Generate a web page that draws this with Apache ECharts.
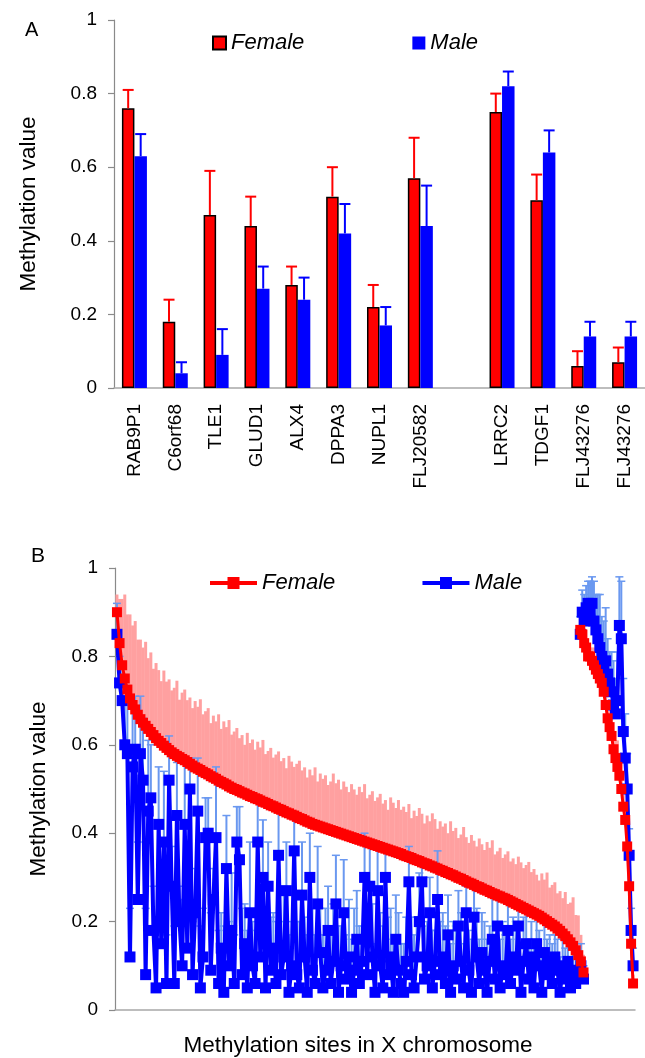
<!DOCTYPE html>
<html>
<head>
<meta charset="utf-8">
<script src="https://cdn.jsdelivr.net/npm/echarts@6/dist/echarts.min.js"></script>
<style>
html, body { margin: 0; padding: 0; background: #fff; }
#chart { width: 645px; height: 1058px; }
</style>
</head>
<body>
<div id="chart"></div>
<script>
// ---- panel A: selected genes ----
var genes = ['RAB9P1', 'C6orf68', 'TLE1', 'GLUD1', 'ALX4', 'DPPA3', 'NUPL1', 'FLJ20582', '', 'LRRC2', 'TDGF1', 'FLJ43276', 'FLJ43276'];
var femaleA = [0.76, 0.18, 0.47, 0.44, 0.28, 0.52, 0.22, 0.57, null, 0.75, 0.51, 0.06, 0.07];
var femaleAErr = [0.05, 0.06, 0.12, 0.08, 0.05, 0.08, 0.06, 0.11, null, 0.05, 0.07, 0.04, 0.04];
var maleA = [0.63, 0.04, 0.09, 0.27, 0.24, 0.42, 0.17, 0.44, null, 0.82, 0.64, 0.14, 0.14];
var maleAErr = [0.06, 0.03, 0.07, 0.06, 0.06, 0.08, 0.05, 0.11, null, 0.04, 0.06, 0.04, 0.04];
var yTicks = [0, 0.2, 0.4, 0.6, 0.8, 1];

// ---- panel B: X-chromosome sites, sorted by female value ----
var femaleB = [
0.90,0.83,0.78,0.75,0.725,0.705,0.69,0.68,0.668,0.658,
0.65,0.643,0.636,0.629,0.622,0.615,0.609,0.604,0.598,0.593,
0.588,0.583,0.579,0.575,0.572,0.568,0.565,0.561,0.557,0.553,
0.549,0.546,0.543,0.539,0.536,0.533,0.529,0.526,0.523,0.519,
0.516,0.513,0.51,0.506,0.503,0.50,0.498,0.495,0.492,0.49,
0.487,0.484,0.482,0.479,0.477,0.474,0.471,0.469,0.466,0.463,
0.461,0.458,0.455,0.453,0.45,0.447,0.445,0.442,0.44,0.437,
0.434,0.432,0.429,0.426,0.424,0.421,0.419,0.417,0.415,0.413,
0.411,0.409,0.407,0.405,0.403,0.401,0.399,0.397,0.395,0.393,
0.391,0.389,0.387,0.385,0.383,0.381,0.379,0.377,0.375,0.373,
0.371,0.369,0.367,0.365,0.363,0.361,0.359,0.357,0.355,0.353,
0.35,0.348,0.346,0.344,0.341,0.339,0.337,0.334,0.332,0.33,
0.327,0.325,0.322,0.32,0.317,0.315,0.312,0.31,0.307,0.305,
0.302,0.299,0.297,0.294,0.291,0.288,0.286,0.283,0.28,0.278,
0.275,0.272,0.27,0.267,0.264,0.262,0.259,0.257,0.254,0.252,
0.249,0.246,0.243,0.24,0.237,0.234,0.231,0.228,0.225,0.222,
0.219,0.216,0.213,0.209,0.205,0.201,0.197,0.193,0.189,0.184,
0.179,0.173,0.167,0.16,0.153,0.145,0.135,0.124,0.11,0.085];
var femaleBErr = [
0.04,0.10,0.15,0.19,0.17,0.19,0.18,0.20,0.17,0.18,
0.17,0.19,0.16,0.18,0.15,0.17,0.16,0.14,0.17,0.15,
0.16,0.14,0.15,0.17,0.13,0.15,0.16,0.14,0.15,0.13,
0.15,0.14,0.16,0.13,0.14,0.15,0.12,0.14,0.13,0.15,
0.12,0.14,0.13,0.15,0.12,0.13,0.14,0.12,0.13,0.11,
0.14,0.12,0.13,0.11,0.13,0.12,0.14,0.11,0.12,0.13,
0.11,0.12,0.13,0.11,0.12,0.10,0.13,0.12,0.11,0.12,
0.13,0.11,0.12,0.10,0.12,0.11,0.13,0.10,0.12,0.11,
0.12,0.10,0.11,0.13,0.11,0.12,0.10,0.12,0.11,0.10,
0.12,0.11,0.10,0.12,0.11,0.13,0.10,0.11,0.12,0.10,
0.11,0.12,0.10,0.11,0.09,0.12,0.11,0.10,0.12,0.10,
0.11,0.10,0.12,0.09,0.11,0.10,0.12,0.11,0.09,0.11,
0.10,0.12,0.11,0.09,0.11,0.10,0.11,0.09,0.12,0.10,
0.11,0.09,0.10,0.12,0.10,0.09,0.11,0.10,0.09,0.11,
0.10,0.09,0.11,0.10,0.12,0.09,0.10,0.11,0.09,0.10,
0.11,0.09,0.10,0.09,0.11,0.10,0.09,0.10,0.11,0.09,
0.10,0.09,0.08,0.10,0.09,0.11,0.08,0.09,0.10,0.08,
0.09,0.08,0.10,0.08,0.09,0.11,0.08,0.09,0.06,0.04];
var maleB = [
0.85,0.74,0.70,0.60,0.58,0.12,0.55,0.59,0.25,0.58,
0.52,0.08,0.45,0.48,0.18,0.05,0.42,0.15,0.38,0.06,
0.52,0.28,0.06,0.44,0.20,0.10,0.42,0.14,0.50,0.08,
0.22,0.45,0.05,0.12,0.39,0.40,0.09,0.25,0.39,0.06,
0.14,0.04,0.32,0.10,0.18,0.06,0.38,0.34,0.08,0.15,
0.05,0.22,0.10,0.06,0.38,0.12,0.30,0.05,0.28,0.09,
0.14,0.06,0.35,0.08,0.12,0.27,0.04,0.10,0.36,0.08,
0.05,0.26,0.12,0.04,0.30,0.09,0.06,0.24,0.13,0.05,
0.09,0.18,0.06,0.11,0.24,0.04,0.10,0.22,0.07,0.12,
0.04,0.09,0.16,0.06,0.11,0.30,0.08,0.28,0.12,0.04,
0.27,0.10,0.05,0.30,0.08,0.12,0.04,0.16,0.09,0.06,
0.04,0.11,0.29,0.08,0.05,0.12,0.20,0.29,0.07,0.10,
0.22,0.05,0.11,0.25,0.08,0.12,0.06,0.17,0.04,0.10,
0.07,0.19,0.11,0.05,0.22,0.09,0.04,0.21,0.12,0.06,
0.13,0.09,0.04,0.11,0.16,0.07,0.19,0.05,0.10,0.08,
0.18,0.06,0.12,0.09,0.19,0.04,0.11,0.15,0.07,0.12,
0.05,0.15,0.10,0.04,0.13,0.08,0.11,0.06,0.12,0.09,
0.04,0.10,0.07,0.11,0.05,0.09,0.06,0.08,0.10,0.07];
var maleBErr = [
0.07,0.06,0.08,0.10,0.12,0.11,0.14,0.12,0.13,0.13,
0.14,0.15,0.16,0.12,0.10,0.14,0.13,0.12,0.16,0.11,
0.10,0.09,0.13,0.12,0.08,0.15,0.14,0.11,0.07,0.12,
0.10,0.12,0.14,0.11,0.09,0.08,0.13,0.07,0.16,0.12,
0.08,0.15,0.12,0.10,0.13,0.11,0.08,0.12,0.15,0.09,
0.13,0.16,0.10,0.12,0.09,0.14,0.13,0.11,0.10,0.12,
0.08,0.14,0.10,0.12,0.16,0.11,0.13,0.10,0.08,0.12,
0.15,0.12,0.09,0.13,0.10,0.14,0.11,0.13,0.10,0.12,
0.14,0.10,0.12,0.13,0.11,0.15,0.09,0.12,0.10,0.13,
0.12,0.14,0.11,0.13,0.08,0.10,0.15,0.09,0.12,0.11,
0.10,0.12,0.14,0.07,0.13,0.11,0.12,0.10,0.13,0.09,
0.11,0.10,0.08,0.13,0.12,0.09,0.11,0.05,0.12,0.10,
0.08,0.13,0.07,0.11,0.12,0.10,0.13,0.09,0.11,0.10,
0.12,0.08,0.11,0.10,0.06,0.09,0.12,0.07,0.11,0.10,
0.09,0.11,0.12,0.08,0.10,0.09,0.06,0.11,0.10,0.09,
0.06,0.10,0.09,0.11,0.05,0.08,0.10,0.07,0.09,0.08,
0.10,0.06,0.08,0.09,0.07,0.08,0.06,0.09,0.05,0.07,
0.08,0.06,0.07,0.05,0.07,0.05,0.06,0.04,0.05,0.03];

// small group of sites plotted at the right end
var femaleR = [0.86,0.85,0.83,0.82,0.80,0.80,0.79,0.78,0.77,0.76,0.75,0.74,0.72,0.69,0.66,0.64,0.62,0.59,0.57,0.55,0.53,0.50,0.46,0.43,0.37,0.28,0.15,0.06];
var femaleRErr = [0.03,0.02,0.03,0.04,0.03,0.02,0.03,0.04,0.03,0.03,0.04,0.03,0.05,0.04,0.03,0.04,0.05,0.03,0.04,0.06,0.04,0.03,0.04,0.03,0.03,0.02,0.03,0.02];
var maleR = [0.85,0.90,0.88,0.91,0.92,0.90,0.92,0.88,0.86,0.84,0.82,0.80,0.78,0.79,0.76,0.74,0.72,0.69,0.67,0.70,0.87,0.84,0.63,0.57,0.50,0.35,0.18,0.10];
var maleRErr = [0.04,0.05,0.06,0.05,0.05,0.07,0.06,0.09,0.08,0.10,0.12,0.09,0.10,0.12,0.08,0.07,0.09,0.10,0.08,0.11,0.11,0.13,0.12,0.10,0.08,0.06,0.05,0.04];

var RED = '#FF0000', BLUE = '#0000FF', PINK = '#FFA0A0', LIGHTBLUE = '#6A98F0';
var FONT = '"Liberation Sans", Arial, sans-serif';

function errRows(vals, errs) {
    var rows = [];
    vals.forEach(function (v, i) {
        if (v != null) rows.push([i, v, errs[i]]);
    });
    return rows;
}

// site position on the hidden x scale
function siteRows(vals, errs, start, step) {
    return vals.map(function (v, i) {
        return [start + i * step, v, errs[i]];
    });
}

var femaleMain = siteRows(femaleB, femaleBErr, 0.5, 2 / 3);
var maleMain = siteRows(maleB, maleBErr, 0.5, 2 / 3);
var femaleRight = siteRows(femaleR, femaleRErr, 119, 0.5);
var maleRight = siteRows(maleR, maleRErr, 119, 0.5);

function barErr(offset, color) {
    return function (params, api) {
        var lo = api.coord([api.value(0), api.value(1)]);
        var hi = api.coord([api.value(0), api.value(1) + api.value(2)]);
        var x = lo[0] + offset;
        return {
            type: 'group',
            children: [
                {type: 'line', shape: {x1: x, y1: lo[1], x2: x, y2: hi[1]}, style: {stroke: color, lineWidth: 2}},
                {type: 'line', shape: {x1: x - 5.5, y1: hi[1], x2: x + 5.5, y2: hi[1]}, style: {stroke: color, lineWidth: 2}}
            ]
        };
    };
}

function pinkErr(params, api) {
    var lo = api.coord([api.value(0), api.value(1)]);
    var hi = api.coord([api.value(0), api.value(1) + api.value(2)]);
    return {
        type: 'rect',
        shape: {x: lo[0] - 1.5, y: hi[1], width: 3, height: lo[1] - hi[1]},
        style: {fill: PINK}
    };
}

function blueErr(params, api) {
    var lo = api.coord([api.value(0), api.value(1)]);
    var hi = api.coord([api.value(0), api.value(1) + api.value(2)]);
    return {
        type: 'group',
        children: [
            {type: 'line', shape: {x1: lo[0], y1: lo[1], x2: lo[0], y2: hi[1]}, style: {stroke: LIGHTBLUE, lineWidth: 2}},
            {type: 'line', shape: {x1: lo[0] - 4, y1: hi[1], x2: lo[0] + 4, y2: hi[1]}, style: {stroke: LIGHTBLUE, lineWidth: 1.5}}
        ]
    };
}

var axisGray = '#8a8a8a';
function yAxisOpt(gridIndex, nameGap) {
    return {
        gridIndex: gridIndex,
        type: 'value',
        min: yTicks[0],
        max: yTicks[yTicks.length - 1],
        interval: 0.2,
        name: 'Methylation value',
        nameLocation: 'middle',
        nameGap: nameGap,
        nameTextStyle: {fontSize: 22.5, color: '#000', fontFamily: FONT},
        axisLine: {show: true, lineStyle: {color: axisGray, width: 1.2}},
        axisTick: {show: true, length: 6, lineStyle: {color: axisGray, width: 1.2}},
        axisLabel: {fontSize: 19, color: '#000', margin: 17, fontFamily: FONT},
        splitLine: {show: false}
    };
}

function lineSeries(name, rows, color, size, width, z) {
    return {
        name: name, type: 'line', xAxisIndex: 1, yAxisIndex: 1,
        data: rows.map(function (r) { return [r[0], r[1]]; }),
        symbol: 'rect', symbolSize: size,
        itemStyle: {color: color}, lineStyle: {color: color, width: width}, z: z
    };
}

var dom = document.getElementById('chart');
var myChart = echarts.init(dom, null, {renderer: 'canvas'});

var option = {
    animation: false,
    backgroundColor: '#fff',
    textStyle: {fontFamily: FONT},
    title: [
        {text: 'A', left: 20, top: 15, textStyle: {fontSize: 20, fontWeight: 'normal', color: '#000', fontFamily: FONT}},
        {text: 'B', left: 26, top: 541, textStyle: {fontSize: 21, fontWeight: 'normal', color: '#000', fontFamily: FONT}}
    ],
    legend: [
        {
            data: ['Female', 'Male'],
            left: 207, top: 27,
            icon: 'rect', itemWidth: 13, itemHeight: 13,
            itemGap: 108, itemTextGap: 8,
            textStyle: {fontSize: 22, fontStyle: 'italic', color: '#000', fontFamily: FONT}
        },
        {
            data: ['Female ', 'Male '],
            left: 203, top: 567,
            itemWidth: 47, itemHeight: 15,
            itemGap: 79, itemTextGap: 5,
            lineStyle: {width: 4},
            textStyle: {fontSize: 22, fontStyle: 'italic', color: '#000', fontFamily: FONT}
        }
    ],
    grid: [
        {left: 114, top: 20, width: 531, height: 368},
        {left: 115, top: 568, width: 520, height: 444}
    ],
    xAxis: [
        {
            gridIndex: 0,
            type: 'category',
            data: genes,
            axisLine: {show: true, lineStyle: {color: '#a8a8a8', width: 1.5}},
            axisTick: {show: false},
            axisLabel: {rotate: 90, fontSize: 19, color: '#000', margin: 16, interval: 0, fontFamily: FONT}
        },
        {
            gridIndex: 1,
            type: 'value',
            min: 0, max: 133,
            name: 'Methylation sites in X chromosome',
            nameLocation: 'middle',
            nameGap: 24,
            nameTextStyle: {fontSize: 22.5, color: '#000', fontFamily: FONT, padding: [0, 34, 0, 0]},
            axisLine: {show: true, lineStyle: {color: '#a8a8a8', width: 1.5}},
            axisTick: {show: false},
            axisLabel: {show: false},
            splitLine: {show: false}
        }
    ],
    yAxis: [yAxisOpt(0, 74), yAxisOpt(1, 65)],
    series: [
        {
            name: 'Female', type: 'bar', xAxisIndex: 0, yAxisIndex: 0,
            data: femaleA.map(function (v) { return v == null ? '-' : v; }),
            barWidth: 12.5, barGap: '0%',
            itemStyle: {color: RED, borderColor: '#000', borderWidth: 1.5}
        },
        {
            name: 'Male', type: 'bar', xAxisIndex: 0, yAxisIndex: 0,
            data: maleA.map(function (v) { return v == null ? '-' : v; }),
            barWidth: 12.5, barGap: '0%',
            itemStyle: {color: BLUE}
        },
        {
            type: 'custom', xAxisIndex: 0, yAxisIndex: 0,
            renderItem: barErr(-6.25, RED),
            data: errRows(femaleA, femaleAErr), z: 3
        },
        {
            type: 'custom', xAxisIndex: 0, yAxisIndex: 0,
            renderItem: barErr(6.25, BLUE),
            data: errRows(maleA, maleAErr), z: 3
        },
        // panel B
        {
            type: 'custom', xAxisIndex: 1, yAxisIndex: 1,
            renderItem: pinkErr,
            data: femaleMain.concat(femaleRight), z: 1
        },
        {
            type: 'custom', xAxisIndex: 1, yAxisIndex: 1,
            renderItem: blueErr,
            data: maleMain.concat(maleRight), z: 2
        },
        lineSeries('Male ', maleMain, BLUE, 11, 4, 3),
        lineSeries('Male ', maleRight, BLUE, 11, 4, 3),
        lineSeries('Female ', femaleMain, RED, 10, 3, 4),
        lineSeries('Female ', femaleRight, RED, 10, 3, 4)
    ]
};

if (option && typeof option === 'object') {
    myChart.setOption(option);
}

window.addEventListener('resize', function () {
    myChart.resize();
});
</script>
</body>
</html>
